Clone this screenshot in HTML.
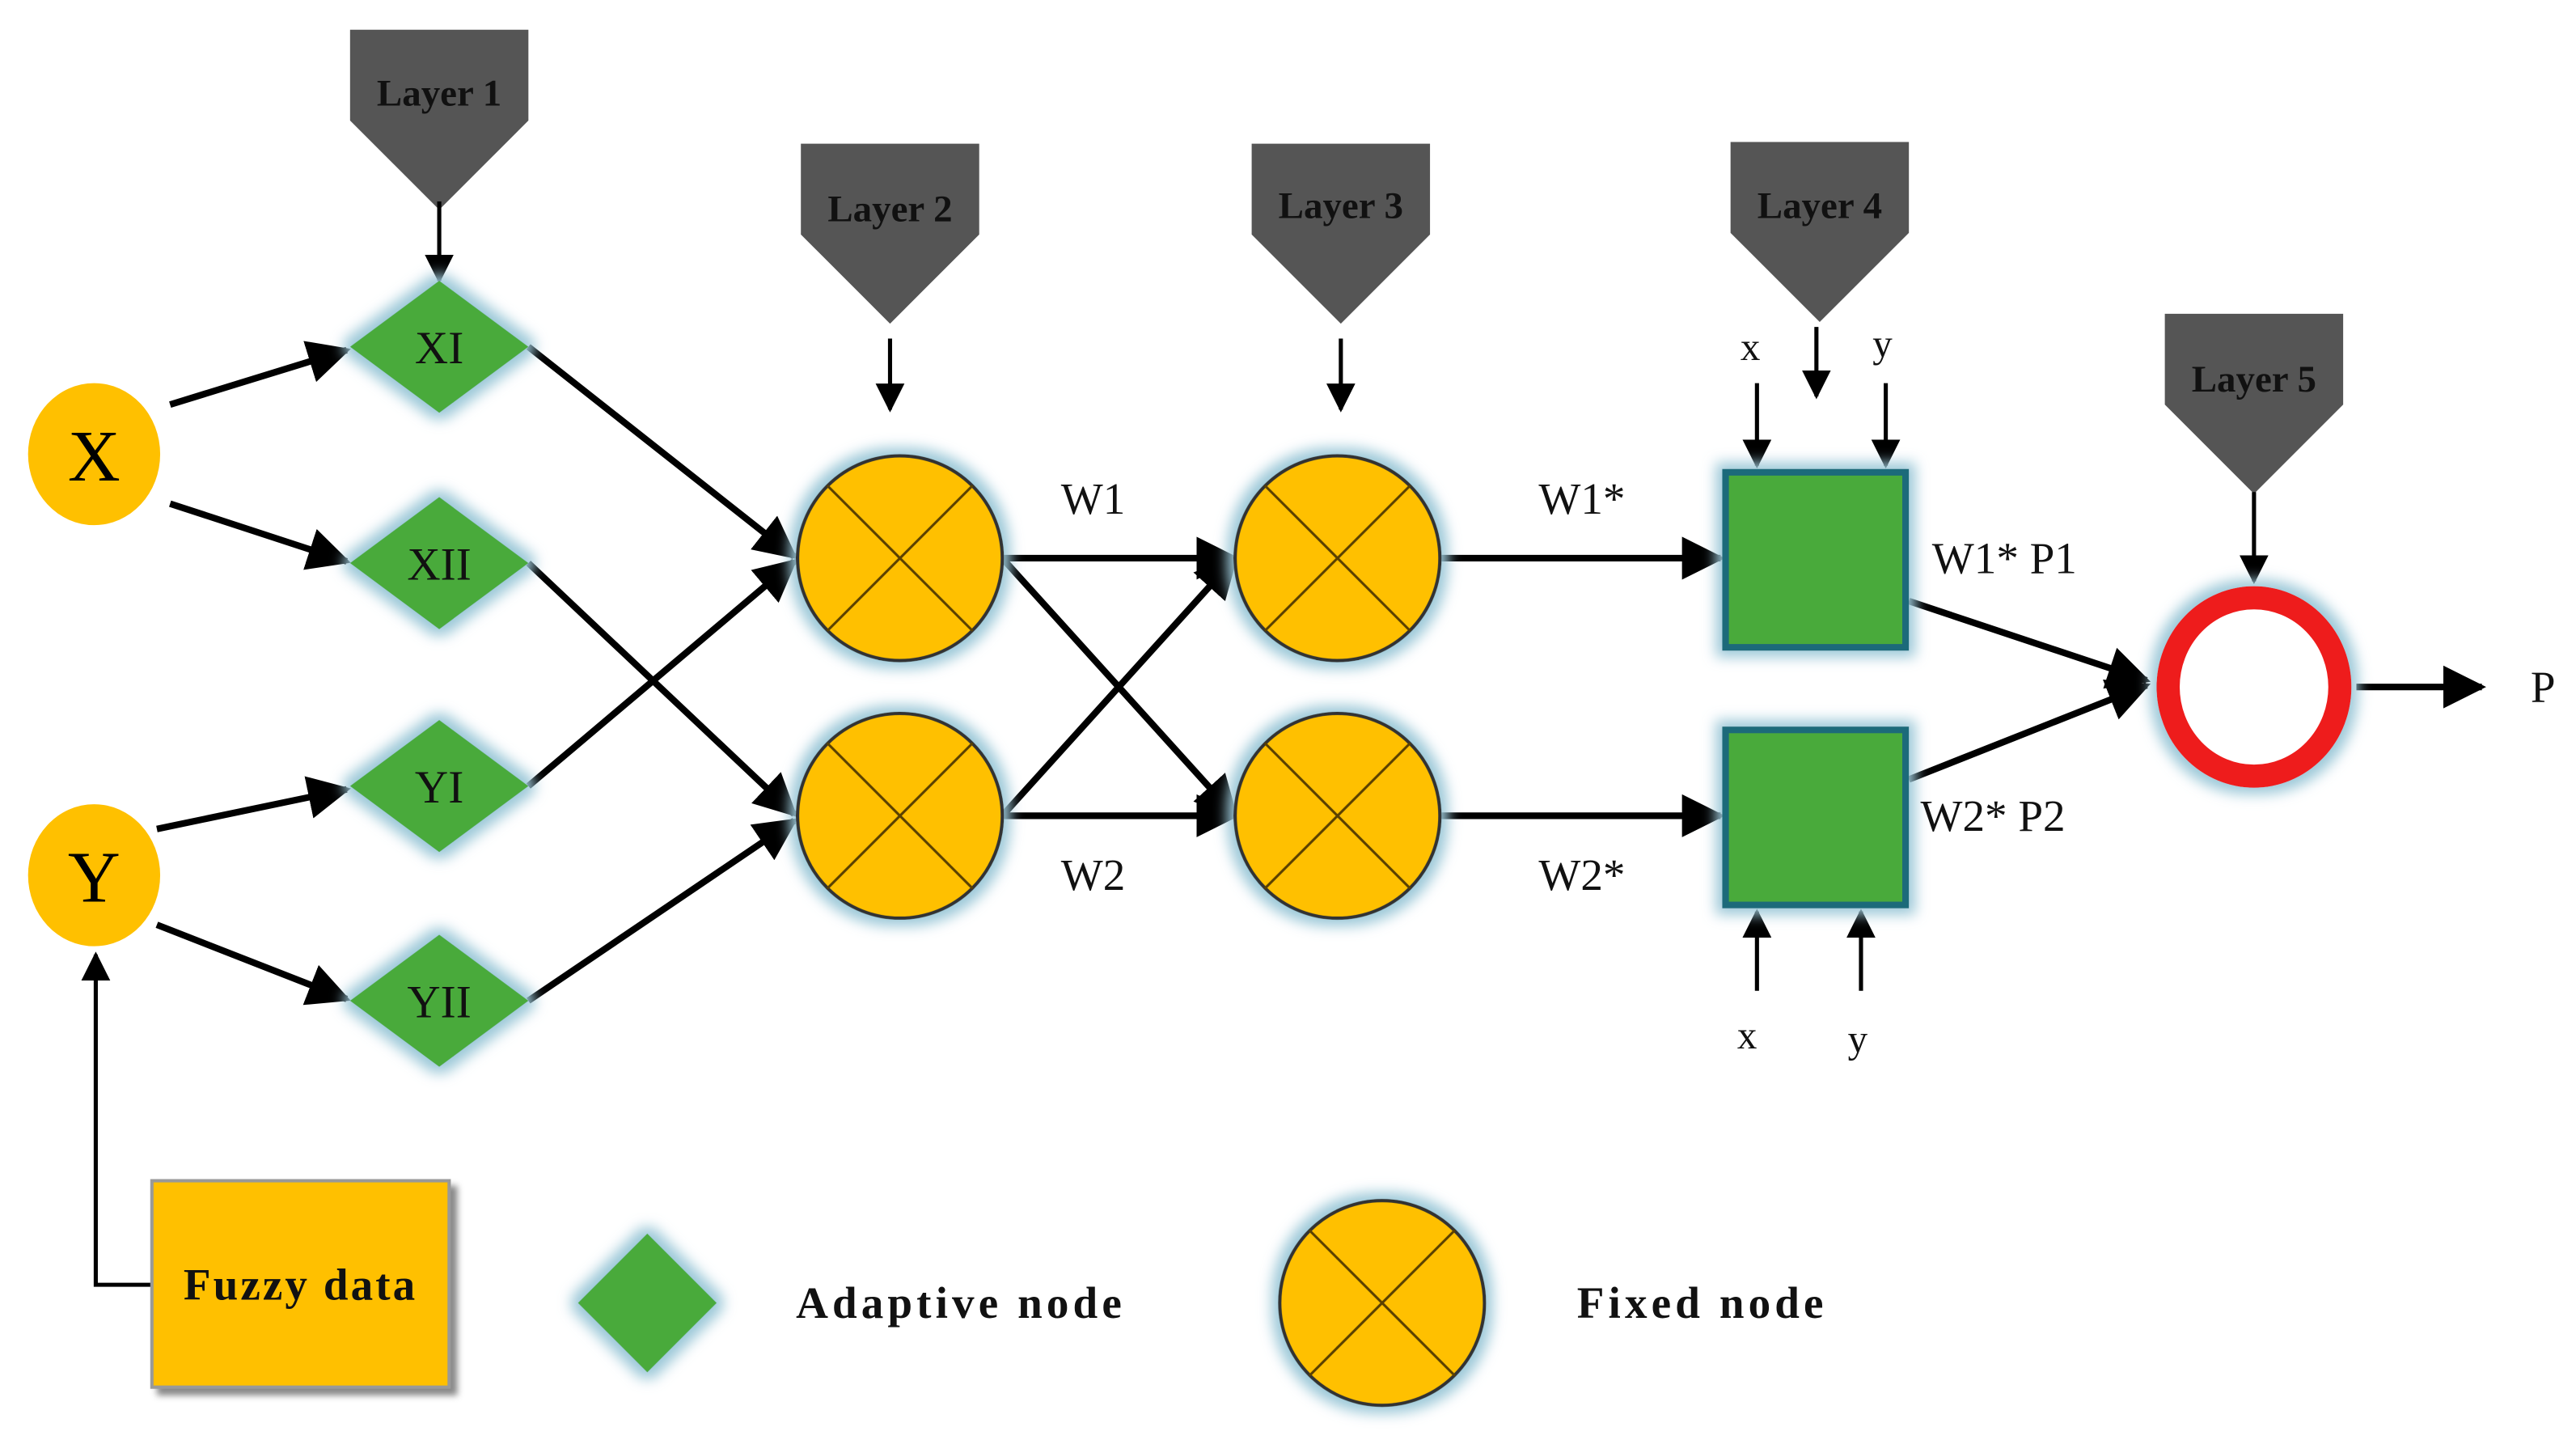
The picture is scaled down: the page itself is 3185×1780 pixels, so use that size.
<!DOCTYPE html>
<html><head><meta charset="utf-8"><style>html,body{margin:0;padding:0;background:#fff}svg{display:block}</style></head>
<body>
<svg width="3185" height="1780" viewBox="0 0 1560 872" preserveAspectRatio="none" xmlns="http://www.w3.org/2000/svg" font-family="Liberation Serif, serif">
<defs>
<marker id="a" viewBox="0 0 10 10" refX="9" refY="5" markerWidth="6.5" markerHeight="6.5" orient="auto" markerUnits="strokeWidth"><path d="M0,0L10,5L0,10z" fill="#000"/></marker>
<marker id="s" viewBox="0 0 10 10" refX="9" refY="5" markerWidth="7" markerHeight="7" orient="auto" markerUnits="strokeWidth"><path d="M0,0L10,5L0,10z" fill="#000"/></marker>
<filter id="g" x="-30%" y="-30%" width="160%" height="160%"><feMorphology in="SourceAlpha" operator="dilate" radius="4" result="d"/><feGaussianBlur in="d" stdDeviation="4" result="b"/><feFlood flood-color="#9cc8d8"/><feComposite in2="b" operator="in" result="c"/><feMerge><feMergeNode in="c"/><feMergeNode in="SourceGraphic"/></feMerge></filter>
<filter id="sh" x="-20%" y="-20%" width="140%" height="140%"><feDropShadow dx="4" dy="4" stdDeviation="2" flood-color="#888"/></filter>
<g id="fx"><circle r="62" fill="#ffc000" stroke="#333" stroke-width="2"/><path d="M-44,-44L44,44M44,-44L-44,44" stroke="#5a4000" stroke-width="1.5"/></g>
<polygon id="dm" points="0,-40 54,0 0,40 -54,0" fill="#4aaa3a"/>
<polygon id="pt" points="-54,0 54,0 54,55 0,109 -54,55" fill="#555"/>
</defs>
<use href="#pt" x="266" y="18"/><use href="#pt" x="539" y="87"/><use href="#pt" x="812" y="87"/><use href="#pt" x="1102" y="86"/><use href="#pt" x="1365" y="190"/>
<g font-weight="bold" font-size="23" fill="#111" text-anchor="middle">
<text x="266" y="64">Layer 1</text><text x="539" y="134">Layer 2</text><text x="812" y="132">Layer 3</text><text x="1102" y="132">Layer 4</text><text x="1365" y="237">Layer 5</text>
</g>
<g stroke="#000" stroke-width="2.5" fill="none">
<line x1="266" y1="122" x2="266" y2="170" marker-end="url(#s)"/>
<line x1="539" y1="205" x2="539" y2="248" marker-end="url(#s)"/>
<line x1="812" y1="205" x2="812" y2="248" marker-end="url(#s)"/>
<line x1="1100" y1="198" x2="1100" y2="240" marker-end="url(#s)"/>
<line x1="1365" y1="298" x2="1365" y2="352" marker-end="url(#s)"/>
<line x1="1064" y1="232" x2="1064" y2="282" marker-end="url(#s)"/>
<line x1="1142" y1="232" x2="1142" y2="282" marker-end="url(#s)"/>
<line x1="1064" y1="600" x2="1064" y2="552" marker-end="url(#s)"/>
<line x1="1127" y1="600" x2="1127" y2="552" marker-end="url(#s)"/>
<polyline points="92,778 58,778 58,578" marker-end="url(#s)"/>
</g>
<g stroke="#000" stroke-width="4" fill="none">
<line x1="103" y1="245" x2="210" y2="212" marker-end="url(#a)"/>
<line x1="103" y1="305" x2="210" y2="340" marker-end="url(#a)"/>
<line x1="95" y1="502" x2="210" y2="478" marker-end="url(#a)"/>
<line x1="95" y1="560" x2="210" y2="605" marker-end="url(#a)"/>
<line x1="320" y1="210" x2="481" y2="337" marker-end="url(#a)"/>
<line x1="320" y1="341" x2="481" y2="493" marker-end="url(#a)"/>
<line x1="320" y1="476" x2="481" y2="340" marker-end="url(#a)"/>
<line x1="320" y1="606" x2="481" y2="497" marker-end="url(#a)"/>
<line x1="607" y1="338" x2="748" y2="338" marker-end="url(#a)"/>
<line x1="607" y1="338" x2="748" y2="494" marker-end="url(#a)"/>
<line x1="607" y1="494" x2="748" y2="338" marker-end="url(#a)"/>
<line x1="607" y1="494" x2="748" y2="494" marker-end="url(#a)"/>
<line x1="872" y1="338" x2="1042" y2="338" marker-end="url(#a)"/>
<line x1="872" y1="494" x2="1042" y2="494" marker-end="url(#a)"/>
<line x1="1156" y1="364" x2="1300" y2="412" marker-end="url(#a)"/>
<line x1="1156" y1="472" x2="1300" y2="415" marker-end="url(#a)"/>
<line x1="1427" y1="416" x2="1503" y2="416" marker-end="url(#a)"/>
</g>
<ellipse cx="57" cy="275" rx="40" ry="43" fill="#ffc000"/>
<ellipse cx="57" cy="530" rx="40" ry="43" fill="#ffc000"/>
<g font-size="44" text-anchor="middle" fill="#000"><text x="57" y="291">X</text><text x="57" y="546">Y</text></g>
<g filter="url(#g)"><use href="#dm" x="266" y="210"/><use href="#dm" x="266" y="341"/><use href="#dm" x="266" y="476"/><use href="#dm" x="266" y="606"/>
<polygon points="392,747 434,789 392,831 350,789" fill="#4aaa3a"/></g>
<g font-size="28" text-anchor="middle" fill="#111"><text x="266" y="220">XI</text><text x="266" y="351">XII</text><text x="266" y="486">YI</text><text x="266" y="616">YII</text></g>
<g filter="url(#g)"><use href="#fx" x="545" y="338"/><use href="#fx" x="545" y="494"/><use href="#fx" x="810" y="338"/><use href="#fx" x="810" y="494"/><use href="#fx" x="837" y="789"/></g>
<g filter="url(#g)"><rect x="1045" y="286" width="109" height="106" fill="#4aaa3a" stroke="#1f6b7a" stroke-width="4"/><rect x="1045" y="442" width="109" height="106" fill="#4aaa3a" stroke="#1f6b7a" stroke-width="4"/>
<ellipse cx="1365" cy="416" rx="52" ry="54" fill="#fff" stroke="#ee1c1c" stroke-width="14"/></g>
<g font-size="27" fill="#111" text-anchor="middle">
<text x="662" y="311">W1</text><text x="662" y="539">W2</text><text x="958" y="311">W1*</text><text x="958" y="539">W2*</text>
<text x="1170" y="347" text-anchor="start">W1* P1</text><text x="1163" y="503" text-anchor="start">W2* P2</text><text x="1540" y="425">P</text>
<text x="1060" y="218" font-size="24">x</text><text x="1140" y="216" font-size="24">y</text><text x="1058" y="635" font-size="24">x</text><text x="1125" y="637" font-size="24">y</text>
</g>
<rect x="92" y="715" width="180" height="125" fill="#ffc000" stroke="#999" stroke-width="2" filter="url(#sh)"/>
<g font-weight="bold" font-size="27" fill="#111" letter-spacing="1.5"><text x="182" y="787" text-anchor="middle">Fuzzy data</text><text x="482" y="798" letter-spacing="2.5">Adaptive node</text><text x="955" y="798" letter-spacing="2.5">Fixed node</text></g>
</svg>
</body></html>
